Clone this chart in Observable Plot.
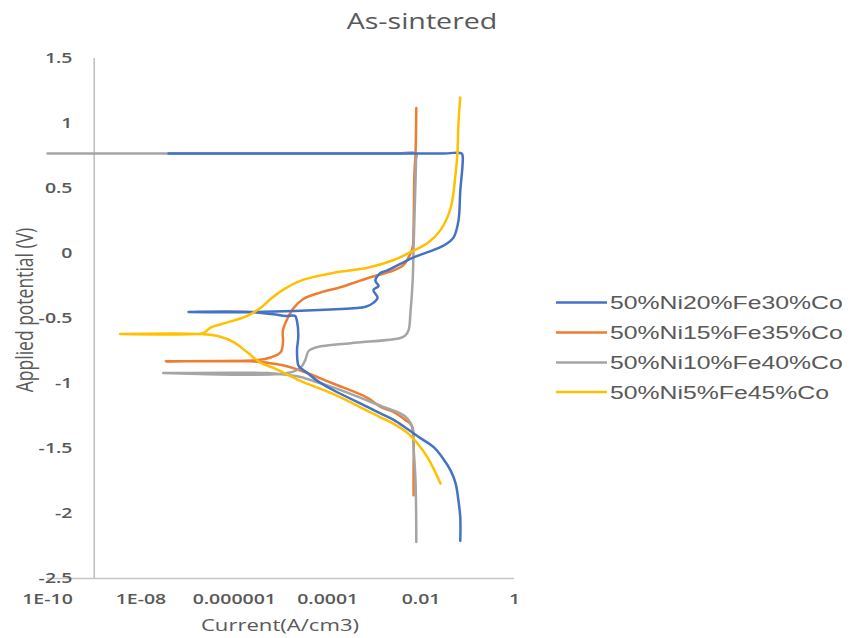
<!DOCTYPE html>
<html><head><meta charset="utf-8">
<script src="https://cdn.jsdelivr.net/npm/d3@7"></script>
<script src="https://cdn.jsdelivr.net/npm/@observablehq/plot@0.6"></script>
<style>body{margin:0;background:#fff}#chart{width:859px;height:638px}</style>
</head><body><div id="chart"></div>
<script>
// ---- data (current in A/cm3, potential in V), in scan order ----
const seriesNames = ["50%Ni20%Fe30%Co", "50%Ni15%Fe35%Co", "50%Ni10%Fe40%Co", "50%Ni5%Fe45%Co"];
const seriesColors = ["#4472C4", "#ED7D31", "#A5A5A5", "#FFC000"];

const ni20Current = [6.9e-2, 6.9e-2, 6.3e-2, 5.5e-2, 4.3e-2, 3.0e-2, 1.86e-2, 9.7e-3, 5.1e-3, 2.6e-3, 1.35e-3, 7.1e-4, 1.3e-4, 6.0e-5, 3.7e-5, 2.6e-5, 2.35e-5, 2.2e-5, 2.35e-5, 2.2e-5, 2.0e-5, 1.25e-5, 7.6e-6, 2.2e-6, 1.05e-7, 2.2e-6, 1.15e-4, 6.5e-4, 9.5e-4, 1.17e-3, 9.5e-4, 1.23e-3, 1.05e-3, 1.35e-3, 1.9e-3, 3.6e-3, 6.9e-3, 1.38e-2, 3.0e-2, 4.9e-2, 6.3e-2, 6.9e-2, 7.8e-2, 7.4e-2, 3.0e-2, 3.9e-8];
const ni20Potential = [-2.21, -2.03, -1.90, -1.77, -1.67, -1.58, -1.49, -1.42, -1.35, -1.28, -1.23, -1.18, -1.05, -0.98, -0.92, -0.88, -0.86, -0.75, -0.63, -0.52, -0.48, -0.48, -0.47, -0.45, -0.45, -0.45, -0.43, -0.41, -0.38, -0.34, -0.28, -0.25, -0.21, -0.15, -0.13, -0.08, -0.03, 0.01, 0.06, 0.12, 0.25, 0.48, 0.74, 0.77, 0.77, 0.77];

const ni15Current = [6.9e-3, 6.9e-3, 6.9e-3, 6.2e-3, 4.6e-3, 2.6e-3, 1.35e-3, 7.1e-4, 1.3e-4, 2.6e-5, 1.1e-5, 5.1e-6, 2.6e-6, 3.4e-8, 3.2e-6, 6.0e-6, 9.8e-6, 1.1e-5, 1.1e-5, 1.38e-5, 1.86e-5, 3.0e-5, 7.0e-5, 1.86e-4, 7.1e-4, 2.6e-3, 4.2e-3, 5.4e-3, 6.6e-3, 6.9e-3, 7.2e-3, 7.6e-3, 7.9e-3];
const ni15Potential = [-1.86, -1.65, -1.44, -1.32, -1.28, -1.22, -1.18, -1.11, -1.00, -0.90, -0.86, -0.84, -0.83, -0.83, -0.82, -0.80, -0.76, -0.69, -0.59, -0.50, -0.42, -0.35, -0.30, -0.26, -0.19, -0.13, -0.09, -0.03, 0.05, 0.20, 0.62, 0.77, 1.12];

const ni10Current = [7.9e-3, 7.6e-3, 6.9e-3, 6.6e-3, 5.1e-3, 3.6e-3, 1.55e-3, 3.1e-4, 1.3e-4, 6.0e-5, 2.6e-5, 1.1e-5, 5.1e-6, 3.0e-8, 1.38e-5, 2.6e-5, 3.3e-5, 3.9e-5, 6.0e-5, 3.1e-4, 3.6e-3, 4.6e-3, 5.4e-3, 5.9e-3, 6.6e-3, 6.9e-3, 7.6e-3, 7.8e-3, 7.9e-3, 3.0e-3, 1e-10];
const ni10Potential = [-2.22, -1.75, -1.49, -1.34, -1.27, -1.23, -1.18, -1.08, -1.03, -0.99, -0.95, -0.93, -0.92, -0.92, -0.92, -0.88, -0.82, -0.75, -0.72, -0.69, -0.65, -0.63, -0.59, -0.46, -0.21, 0.05, 0.56, 0.72, 0.77, 0.77, 0.77];

const ni5Current = [2.6e-2, 2.0e-2, 1.38e-2, 8.3e-3, 5.1e-3, 2.6e-3, 1.35e-3, 7.1e-4, 1.3e-4, 2.6e-5, 6.9e-6, 3.6e-6, 1.9e-6, 9.5e-7, 5.0e-7, 1.9e-7, 3.6e-9, 1.35e-7, 2.2e-7, 3.1e-7, 7.1e-7, 1.9e-6, 3.6e-6, 6.0e-6, 1.1e-5, 2.6e-5, 1.3e-4, 7.1e-4, 2.6e-3, 5.9e-3, 1.38e-2, 2.6e-2, 4.3e-2, 5.5e-2, 6.0e-2, 6.3e-2, 6.9e-2];
const ni5Potential = [-1.77, -1.68, -1.57, -1.46, -1.38, -1.31, -1.26, -1.21, -1.08, -0.98, -0.88, -0.84, -0.76, -0.68, -0.64, -0.62, -0.62, -0.62, -0.61, -0.57, -0.53, -0.48, -0.42, -0.35, -0.28, -0.21, -0.15, -0.11, -0.05, 0.01, 0.08, 0.18, 0.35, 0.62, 0.77, 1.00, 1.20];

const xTickValues = [1e-10, 1e-8, 1e-6, 1e-4, 1e-2, 1];
const xTickLabels = ["1E-10", "1E-08", "0.000001", "0.0001", "0.01", "1"];
const yTickValues = [-2.5, -2, -1.5, -1, -0.5, 0, 0.5, 1, 1.5];
const yTickLabels = ["-2.5", "-2", "-1.5", "-1", "-0.5", "0", "0.5", "1", "1.5"];

const titleText = "As-sintered";
const xTitle = "Current(A/cm3)";
const yTitle = "Applied potential (V)";

// ---- build ----
const toRows = (cur, pot) => cur.map((c, i) => ({current: c, potential: pot[i]}));
const seriesRows = [
  toRows(ni20Current, ni20Potential),
  toRows(ni15Current, ni15Potential),
  toRows(ni10Current, ni10Potential),
  toRows(ni5Current, ni5Potential)
];
const drawOrder = [1, 2, 0, 3];
const textColor = "#595959";
const stretch = 1.3;
const tickFont = {fontFamily: "'Open Sans', sans-serif", fontSize: 15, fontWeight: 600, fill: textColor};

const chart = Plot.plot({
  width: 859, height: 638,
  marginLeft: 47, marginRight: 345, marginTop: 58, marginBottom: 60,
  style: {background: "#fff", overflow: "visible"},
  x: {type: "log", domain: [1e-10, 1], axis: null},
  y: {domain: [-2.5, 1.5], axis: null},
  marks: [
    Plot.ruleY([-2.5], {x1: 1e-10, x2: 1, stroke: "#c6c6c6", strokeWidth: 1.5}),
    Plot.ruleX([1e-9], {y1: -2.5, y2: 1.5, stroke: "#bdbdbd", strokeWidth: 1.5}),
    ...drawOrder.map(i => Plot.line(seriesRows[i], {x: "current", y: "potential", stroke: seriesColors[i], strokeWidth: 2.5, curve: "catmull-rom"})),
    Plot.text(xTickValues, {x: d => d, frameAnchor: "bottom", dy: 20.5, lineAnchor: "middle", text: (d, i) => xTickLabels[i], ...tickFont}),
    Plot.text(yTickValues, {y: d => d, frameAnchor: "left", dx: 25, textAnchor: "end", lineAnchor: "middle", text: (d, i) => yTickLabels[i], ...tickFont})
  ]
});

// horizontally stretch Plot's text to match reference aspect
chart.querySelectorAll("text").forEach(t => {
  const xa = t.getAttribute("x");
  const xv = xa == null ? 0 : parseFloat(xa);
  let tr = t.getAttribute("transform") || "";
  if (xv && isFinite(xv)) { tr += ` translate(${xv},0)`; t.setAttribute("x", 0); }
  t.setAttribute("transform", `${tr} scale(${stretch},1)`);
});

const svg = d3.select(chart);
// title
svg.append("text").attr("transform", `translate(422,29) scale(${stretch},1)`)
  .attr("text-anchor", "middle").attr("font-family", "'Open Sans', sans-serif")
  .attr("font-size", 22).attr("fill", textColor).text(titleText);
// x title
svg.append("text").attr("transform", `translate(280,631) scale(${stretch},1)`)
  .attr("text-anchor", "middle").attr("font-family", "'Open Sans', sans-serif")
  .attr("font-size", 17).attr("fill", textColor).text(xTitle);
// y title
svg.append("text").attr("transform", `translate(24,310) rotate(-90) scale(1,${stretch})`)
  .attr("text-anchor", "middle").attr("dominant-baseline", "central")
  .attr("font-family", "'Open Sans', sans-serif")
  .attr("font-size", 17.5).attr("fill", textColor).text(yTitle);

// legend
const legendRows = [302.5, 332.5, 362.5, 392];
const lg = svg.append("g");
seriesNames.forEach((name, i) => {
  lg.append("line").attr("x1", 556).attr("x2", 607).attr("y1", legendRows[i]).attr("y2", legendRows[i])
    .attr("stroke", seriesColors[i]).attr("stroke-width", 2.5);
  lg.append("text").attr("transform", `translate(610,${legendRows[i] + 6.6}) scale(1.34,1)`)
    .attr("text-anchor", "start")
    .attr("font-family", "'Liberation Sans', Arial, sans-serif").attr("font-size", 18.5)
    .attr("fill", textColor).text(name);
});

document.getElementById("chart").appendChild(chart);
</script>
</body></html>
